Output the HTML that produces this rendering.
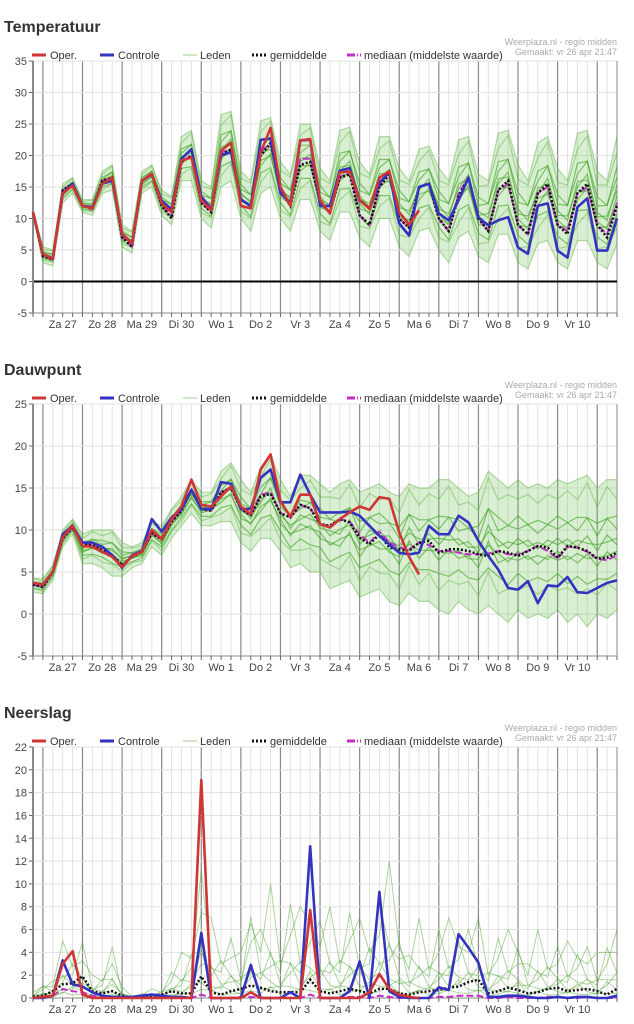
<!DOCTYPE html>
<html><head><meta charset="utf-8"><style>
body{margin:0;background:#fff;width:634px;height:1024px;overflow:hidden;font-family:"Liberation Sans",sans-serif;}
svg{position:absolute;left:0;top:0}
</style></head><body>
<svg id="c" width="634" height="1024"></svg>
<script>
const days=["Za 27","Zo 28","Ma 29","Di 30","Wo 1","Do 2","Vr 3","Za 4","Zo 5","Ma 6","Di 7","Wo 8","Do 9","Vr 10"];
const tOp=[11,4.4,3.6,14,15.2,12,11.6,15.5,16.5,7.6,6,16,17.1,12.4,11,19.2,19.7,12.9,11.3,20.8,22,12,11.6,20.5,24.4,15,12,22.4,22.6,12.9,10.8,17.3,17.5,13,11.5,16.5,17.5,11,9,11.3];
const tCtrl=[11,4.4,3.6,14,15.5,12,11.8,15.5,16,7.6,6,16,17,12.8,11.5,19.5,21,13.5,11.5,20,20.5,13,12,22.5,22.7,14,12.5,22.4,22.5,12,12,17.6,18,12.9,11.6,15.7,17.3,9.2,7.3,15,15.5,10.8,9.7,12.9,16.5,10.2,8.9,9.7,10.2,5.4,4.4,12,12.4,4.9,3.8,11.8,13.2,4.9,4.9,10];
const tMean=[11,4,3.5,14.5,15.5,12,11.5,16,16.5,7,5.5,16,17,12,10,19,20,12.5,11,20,21,13,12,20,22,14.5,12,18.5,19,12.5,11,16.5,17,10.5,9,15,17,10,8.5,15,15.5,10,8,13.5,16.5,10,8,14.5,16,9,7.5,14,15.5,9,7.5,14,15.5,9,7,12];
const tMed=[11,4,3.5,14.5,15.5,12,11.5,16,16.5,7,5.5,16,17,12,10.5,19,20,12.5,11,20.5,21,13,12,20.5,22,14.5,12,19.5,19.5,12.5,11,16.5,17.5,10.5,9,15,17.5,10,8.5,15,15.5,10,8,14,16.5,10,8,14.5,15.5,9,7.5,14,15,9,8,14,15,9,7.5,12.5];
const tHi=[11.5,5.5,5,15.5,16.5,13,13,17.5,18.5,9,8,17.5,18.5,14.5,13.5,23,24,16,15,26.5,27,17.5,16,25.5,26,19,17,25,25,18,16,24,24.5,19,17,23,23,18,16,21,21.5,18,16,22.5,23,17,16,23.5,24,18.5,16,22,23,18,16,23.5,24,17.5,16,23];
const tLo=[10.5,3,2.5,12.5,14,11,10.5,14,14.5,5.5,4.5,14,15,10.5,9,16,16,10,8.5,15,16,10,8,14,15,10,8,13,13,8,6.5,11,11,7,5.5,10,10,5.5,4,8,8.5,5,3,7,8,4,3,7.5,7.5,3,2,6,6.5,3,2,6.5,6.5,3,2,6];
const dOp=[3.7,3.5,5,9.2,10.5,8.1,8,7.4,6.8,5.6,6.9,7.4,10,8.9,11.3,12.8,16,13,12.8,14,15.2,12.8,11.9,17.2,19,13.4,11.6,14.2,14.2,10.7,10.3,11.3,12.1,12.8,12.4,13.9,13.7,9.7,6.8,4.7];
const dCtrl=[3.7,3.5,5,9.5,10.5,8.5,8.5,8,7,5.5,7,7.5,11.3,9.8,11.5,12.5,14.8,12.5,12.5,15.7,15.5,12.5,12.5,16.2,17.2,13.3,13.3,16.6,14.2,12.1,12.1,12.1,12.2,11.7,10.5,9.3,8.3,7.3,7.1,7.3,10.5,9.5,9.5,11.7,10.9,8.7,6.9,5.3,3.1,2.9,3.9,1.3,3.4,3.3,4.4,2.6,2.5,3.1,3.7,4.0];
const dMean=[3.5,3.2,5,9,10.3,8.3,8.2,7.6,7,5.8,6.8,7.4,9.6,8.9,11,12.3,14.8,12.5,12.3,14.5,15,12.5,11.8,14,14.3,12,11.5,13,12.6,10.7,10.5,11.3,10.9,9.1,8.3,9.5,7.9,7.7,7.5,8.5,8.7,7.3,7.7,7.7,7.5,7.1,6.9,7.5,7.3,6.9,7.5,8.1,7.9,6.7,8.1,7.9,7.5,6.6,6.7,7.3];
const dMed=[3.5,3.2,5,9,10.3,8.3,8.2,7.6,7,5.8,6.8,7.4,9.6,8.9,11,12.3,14.8,12.5,12.3,14.5,15,12.5,11.8,14.2,14.5,12,11.5,13,12.6,10.7,10.5,11.3,11,9.5,8.5,9.8,8.5,7.9,7.7,8.5,8.2,7.5,7.5,7.3,7.1,7.1,7.2,7.5,7.1,7.1,7.5,8.1,7.5,6.6,8,7.9,7.4,6.6,6.4,7];
const dHi=[4.3,4.2,5.8,10,11.3,9.5,10,10,10,8.5,8,8.5,11,10.5,12.5,14,16,14.5,14.5,17,18,16,14.5,17.5,19,16,14,16.5,16.5,15.5,14.5,15.5,16,14.5,15,15.5,14.5,14,15.5,15,15,16,16,15,14,14.5,17,16,15,16,15,15.5,15,16,15.5,16,16.5,15,16,16];
const dLo=[2.6,2.4,4,8,9.5,6,6,5.5,4.5,4.5,5.5,6,8,7,9,10.5,12,10.5,10.5,11,11,8.5,7.5,9,9,7.5,5.5,6,5,5,3,3.5,4,2,2.5,3,1.5,1,2.5,1.5,1.5,0.5,0,1.5,0.5,0,1,0,-1,0.5,-0.5,0,-0.5,0.5,-1,0,-1.5,0,-0.5,0.5];
const pOp=[0,0.1,0.2,3,4.1,0.3,0,0,0,0,0,0,0,0,0,0,0,19.1,0,0,0,0,0.5,0,0,0,0,0,7.7,0,0,0,0,0,0.5,2.1,0.8,0.3,0.1,0];
const pCtrl=[0,0,0.2,3.3,1.2,1,0.5,0.2,0.1,0.1,0.1,0.2,0.3,0.2,0.1,0.1,0,5.7,0,0,0,0,2.9,0,0,0,0.5,0,13.3,0,0,0,0.6,3.2,0,9.3,0.6,0.1,0,0,0,0.95,0.7,5.6,4.4,3.1,0.1,0.1,0.2,0.2,0.1,0,0,0.1,0,0.1,0.1,0,0,0.2];
const pMean=[0.1,0.2,0.6,1.2,1.3,1.9,0.6,0.4,0.6,0.2,0,0.1,0.2,0.3,0.6,0.4,0.4,1.9,0.5,0.3,0.6,0.8,1.1,0.9,0.6,0.5,0.5,0.5,1.6,0.6,0.4,0.6,0.8,0.6,0.4,0.8,0.8,0.4,0.3,0.5,0.6,0.7,0.9,1.0,1.4,1.6,0.4,0.6,0.9,0.7,0.4,0.5,0.8,0.9,0.6,0.7,0.8,0.6,0.3,0.8];
const pMed=[0,0,0.2,0.8,0.6,0.5,0.2,0.1,0.1,0,0,0,0,0.1,0.1,0,0,0.3,0,0,0,0.1,0.1,0,0,0,0,0,0.3,0,0,0,0.1,0.1,0,0.2,0.1,0,0,0,0,0.1,0.1,0.2,0.2,0.2,0,0,0.1,0,0,0,0.1,0.1,0,0,0.1,0,0,0];
const pHi=[0.5,2,2,5,5.5,6.5,2,3,6,1,0.2,0.5,0.8,1,3,4,7,15,7,6,7,4,13,8,10,6,11,8,13,9,8,6,10,7,8,11,12,9,5,7,5,8,7,9,8,7,4,7,6,8,4,6,5,6,5,7,6,4,8,8];

const NS="http://www.w3.org/2000/svg";
const svg=document.getElementById('c');
const L=33,R=617,N=60;
function X(t){return L+t*(R-L)/(N-1);}
function mk(tag,attrs,parent){const e=document.createElementNS(NS,tag);for(const k in attrs)e.setAttribute(k,attrs[k]);(parent||svg).appendChild(e);return e;}
function txt(s,x,y,attrs,parent){const e=mk('text',Object.assign({x:x,y:y},attrs),parent);e.textContent=s;return e;}
function path(arr,Y){return arr.map((v,i)=>(i?'L':'M')+X(i).toFixed(1)+' '+Y(v).toFixed(1)).join(' ');}

function chart(cfg){
  const g=mk('g',{});
  
  
  const Y=v=>cfg.bot-(v-cfg.min)*(cfg.bot-cfg.top)/(cfg.max-cfg.min);
  const ti=txt(cfg.title,4,cfg.top-29,{'font-size':'16','font-weight':'bold',fill:'#333'},g);
  
  
  for(let t=0;t<N;t++){
    const mid=(t%4)==1;
    mk('line',{x1:X(t),x2:X(t),y1:cfg.top,y2:cfg.bot,stroke:mid?'#888':'#e2e2e2','stroke-width':mid?1.2:1},g);
  }
  for(let v=cfg.min;v<=cfg.max;v+=cfg.step){
    mk('line',{x1:L,x2:R,y1:Y(v),y2:Y(v),stroke:'#e2e2e2'},g);
    mk('line',{x1:L-4,x2:L,y1:Y(v),y2:Y(v),stroke:'#666'},g);
    const tl=txt(String(v),L-6,Y(v)+4,{'font-size':'11','text-anchor':'end',fill:'#444'},g);
    
    
  }
  mk('line',{x1:R,x2:R,y1:cfg.top,y2:cfg.bot,stroke:'#888'},g);
  const mem=mk('g',{},g);
  
  
  if(cfg.lo){
    const band=path(cfg.hi,Y)+' '+cfg.lo.map((v,i)=>'L'+X(i)+' '+Y(v)).reverse().join(' ')+'Z';
    mk('path',{d:band,fill:'rgba(100,190,70,0.25)',stroke:'none'},mem);
    const fr=[0,0.15,0.28,0.38,0.45,0.5,0.55,0.62,0.72,0.85,1];
    fr.forEach((f,k)=>{
      const arr=cfg.lo.map((v,i)=>{const ff=(k%2)?(i%2?f:Math.min(1,f+0.1)):f;return v+ff*(cfg.hi[i]-v);});
      mk('path',{d:path(arr,Y),fill:'none',stroke:(f>0.25&&f<0.75)?'rgba(60,160,30,0.6)':'rgba(80,170,50,0.4)','stroke-width':1.2},mem);
    });
  } else {
    [1,0.75,0.55,0.4,0.28,0.18,0.1].forEach((f,k)=>{
      const arr=cfg.hi.map((v,i)=>((i+k)%3==0?v*f:v*f*0.5));
      mk('path',{d:path(arr,Y),fill:'none',stroke:'rgba(70,165,40,0.45)','stroke-width':1},mem);
    });
  }
  if(cfg.zero){mk('line',{x1:L,x2:R,y1:Y(0),y2:Y(0),stroke:'#000','stroke-width':2},g);}
  mk('line',{x1:L,x2:L,y1:cfg.top,y2:cfg.bot,stroke:'#888','stroke-width':2},g);
  mk('line',{x1:L,x2:R,y1:cfg.bot,y2:cfg.bot,stroke:'#888','stroke-width':1},g);
  for(let t=0;t<N;t++){mk('line',{x1:X(t),x2:X(t),y1:cfg.bot,y2:cfg.bot+4,stroke:'#666'},g);}
  days.forEach((d,k)=>{
    const dl=txt(d,X(3+4*k),cfg.bot+15,{'font-size':'11','text-anchor':'middle',fill:'#444'},g);
    
    
  });
  const med=mk('path',{d:path(cfg.med,Y),fill:'none',stroke:'#c030c8','stroke-width':2,'stroke-dasharray':'7 3'},g);
  
  
  const mn=mk('path',{d:path(cfg.mean,Y),fill:'none',stroke:'#111','stroke-width':2.5,'stroke-dasharray':'2 2'},g);
  
  
  const ct=mk('path',{d:path(cfg.ctrl,Y),fill:'none',stroke:'#3333c0','stroke-width':2.6,'stroke-linejoin':'round'},g);
  
  
  const op=mk('path',{d:path(cfg.op,Y),fill:'none',stroke:'#d03535','stroke-width':2.6,'stroke-linejoin':'round'},g);
  
  
  const lg=mk('g',{},g);
  
  
  const ly=cfg.top-6;
  const items=[[32,50,'Oper.',{stroke:'#d03535','stroke-width':3}],[100,118,'Controle',{stroke:'#3333c0','stroke-width':3}],[183,200,'Leden',{stroke:'#9ccf8c','stroke-width':1}],[252,270,'gemiddelde',{stroke:'#111','stroke-width':3,'stroke-dasharray':'2 2'}],[347,364,'mediaan (middelste waarde)',{stroke:'#c030c8','stroke-width':3,'stroke-dasharray':'8 2 1 2'}]];
  items.forEach(it=>{
    mk('line',Object.assign({x1:it[0],x2:it[0]+14,y1:ly,y2:ly},it[3]),lg);
    const e=txt(it[2],it[1],ly+4,{'font-size':'11',fill:'#333'},lg);
    
    
  });
  const c1=txt('Weerplaza.nl - regio midden',R,cfg.top-16,{'font-size':'9','text-anchor':'end',fill:'#aaa'},g);
  
  
  const c2=txt('Gemaakt: vr 26 apr 21:47',R,cfg.top-6,{'font-size':'9','text-anchor':'end',fill:'#aaa'},g);
  
  
}
chart({name:'temperatuur',title:'Temperatuur',top:61,bot:313,min:-5,max:35,step:5,zero:true,op:tOp,ctrl:tCtrl,mean:tMean,med:tMed,hi:tHi,lo:tLo});
chart({name:'dauwpunt',title:'Dauwpunt',top:404,bot:656,min:-5,max:25,step:5,op:dOp,ctrl:dCtrl,mean:dMean,med:dMed,hi:dHi,lo:dLo});
chart({name:'neerslag',title:'Neerslag',top:747,bot:998,min:0,max:22,step:2,op:pOp,ctrl:pCtrl,mean:pMean,med:pMed,hi:pHi,lo:null});
</script>
</body></html>
